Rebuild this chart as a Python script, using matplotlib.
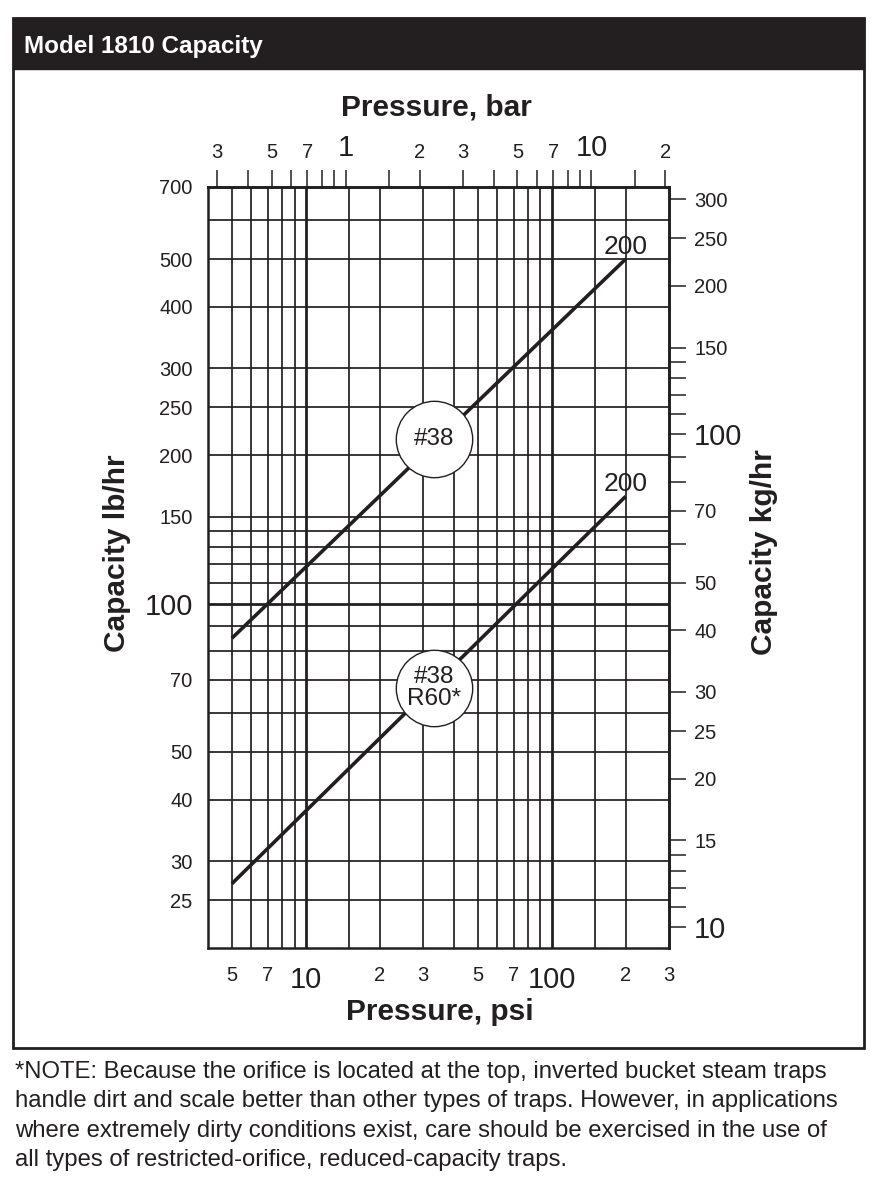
import matplotlib
matplotlib.use('Agg')
import matplotlib.pyplot as plt
from matplotlib.patches import Rectangle
from matplotlib.ticker import NullLocator

# dados (psi x lb/hr)
pressao_psi = [5, 200]
cap_38 = [85, 500]
cap_38_r60 = [27, 165]
rotulo_fim = ['200', '200']
rotulos_curva = ['#38', '#38\nR60*']
pos_rotulos = [(33.3, 216), (33.3, 67.4)]

# eixos
ticks_psi = [5, 7, 10, 20, 30, 50, 70, 100, 200, 300]
labels_psi = ['5', '7', '10', '2', '3', '5', '7', '100', '2', '3']
ticks_lb = [700, 500, 400, 300, 250, 200, 150, 100, 70, 50, 40, 30, 25]
labels_lb = ['700', '500', '400', '300', '250', '200', '150', '100', '70', '50', '40', '30', '25']
ticks_bar = [0.3, 0.4, 0.5, 0.6, 0.7, 0.8, 0.9, 1, 1.5, 2, 3, 4, 5, 6, 7, 8, 9, 10, 15, 20]
labels_bar = ['3', '', '5', '', '7', '', '', '1', '', '2', '3', '', '5', '', '7', '', '', '10', '', '2']
ticks_kg = [300, 250, 200, 150, 140, 130, 120, 110, 100, 90, 80, 70, 60, 50, 40, 30, 25, 20,
            15, 14, 13, 12, 11, 10]
labels_kg = ['300', '250', '200', '150', '', '', '', '', '100', '', '', '70', '', '50', '40',
             '30', '25', '20', '15', '', '', '', '', '10']
grade_v = [5, 6, 7, 8, 9, 10, 15, 20, 30, 40, 50, 60, 70, 80, 90, 100, 150, 200]
grade_h = [600, 500, 400, 300, 250, 200, 150, 140, 130, 120, 110, 100, 90, 80, 70, 60, 50, 40, 30, 25]
grandes = ['1', '10', '100']

nota = ['*NOTE: Because the orifice is located at the top, inverted bucket steam traps',
        'handle dirt and scale better than other types of traps. However, in applications',
        'where extremely dirty conditions exist, care should be exercised in the use of',
        'all types of restricted-orifice, reduced-capacity traps.']

COR = '#231f20'
plt.rcParams['font.family'] = ['Liberation Sans', 'DejaVu Sans']
plt.rcParams['text.color'] = COR
plt.rcParams['xtick.color'] = COR
plt.rcParams['ytick.color'] = COR

W, H = 871, 1189
fig = plt.figure(figsize=(W / 100, H / 100), dpi=100)


def fx(px):
    return px / W


def fy(py):
    return 1 - py / H


# moldura e cabecalho
fig.patches.append(Rectangle((fx(13), fy(1048)), fx(851), 1030 / H, transform=fig.transFigure,
                             fill=False, ec=COR, lw=2))
fig.patches.append(Rectangle((fx(13), fy(69)), fx(851), 51 / H, transform=fig.transFigure,
                             fc=COR, ec=COR, lw=1))
fig.text(fx(24), fy(46), 'Model 1810 Capacity', color='white', fontsize=17.5, fontweight='bold',
         ha='left', va='center')

ax = fig.add_axes([fx(208), fy(948), (669 - 208) / W, (948 - 187) / H])
ax.set_xscale('log')
ax.set_yscale('log')
ax.set_xlim(4, 300)
ax.set_ylim(20, 700)

for v in grade_v:
    ax.axvline(v, color=COR, lw=2.0 if v in (10, 100) else 1.25, zorder=1)
for h in grade_h:
    ax.axhline(h, color=COR, lw=2.0 if h == 100 else 1.25, zorder=1)

ax.plot(pressao_psi, cap_38, color=COR, lw=2.6, zorder=3, solid_capstyle='butt')
ax.plot(pressao_psi, cap_38_r60, color=COR, lw=2.6, zorder=3, solid_capstyle='butt')

for x, y, t in zip([pressao_psi[-1], pressao_psi[-1]], [cap_38[-1], cap_38_r60[-1]], rotulo_fim):
    ax.annotate(t, (x, y), xytext=(0, 0), textcoords='offset points', ha='center', va='bottom',
                fontsize=19, zorder=6)

for (x, y), t in zip(pos_rotulos, rotulos_curva):
    ax.plot(x, y, marker='o', ms=55, mfc='white', mec=COR, mew=1.0, zorder=5)
    ax.text(x, y, t, ha='center', va='center', fontsize=17.5, zorder=6, linespacing=0.95)

for s in ax.spines.values():
    s.set_linewidth(1.8)
    s.set_color(COR)

ax.set_xticks(ticks_psi, labels_psi)
ax.set_yticks(ticks_lb, labels_lb)
ax.xaxis.set_minor_locator(NullLocator())
ax.yaxis.set_minor_locator(NullLocator())
ax.tick_params(axis='x', length=0, pad=13, labelsize=14.5)
ax.tick_params(axis='y', length=0, pad=11, labelsize=14.5)

# eixo bar (topo)
secx = ax.secondary_xaxis('top', functions=(lambda p: p / 14.5038, lambda b: b * 14.5038))
secx.set_xticks(ticks_bar, labels_bar)
secx.xaxis.set_minor_locator(NullLocator())
secx.tick_params(length=12, width=1.1, direction='out', pad=6, labelsize=14.5)
secx.spines['top'].set_linewidth(1.8)

# eixo kg/hr (direita)
secy = ax.secondary_yaxis('right', functions=(lambda l: l * 0.45359, lambda k: k / 0.45359))
secy.set_yticks(ticks_kg, labels_kg)
secy.yaxis.set_minor_locator(NullLocator())
secy.tick_params(length=12, width=1.1, direction='out', pad=6, labelsize=14.5)
secy.spines['right'].set_linewidth(1.8)

for lab in (ax.get_xticklabels() + ax.get_yticklabels() + secx.get_xticklabels()
            + secy.get_yticklabels()):
    if lab.get_text() in grandes:
        lab.set_fontsize(21)

fig.text(fx(436), fy(108), 'Pressure, bar', fontsize=21.5, fontweight='bold', ha='center', va='center')
fig.text(fx(440), fy(1012), 'Pressure, psi', fontsize=21.5, fontweight='bold', ha='center', va='center')
fig.text(fx(117), fy(553), 'Capacity lb/hr', fontsize=21.5, fontweight='bold', rotation=90,
         ha='center', va='center')
fig.text(fx(764), fy(552), 'Capacity kg/hr', fontsize=21.5, fontweight='bold', rotation=90,
         ha='center', va='center')

for i, linha in enumerate(nota):
    fig.text(fx(15), fy(1072 + 29.3 * i), linha, fontsize=17.2, ha='left', va='center')

fig.savefig('out.png', dpi=100)
